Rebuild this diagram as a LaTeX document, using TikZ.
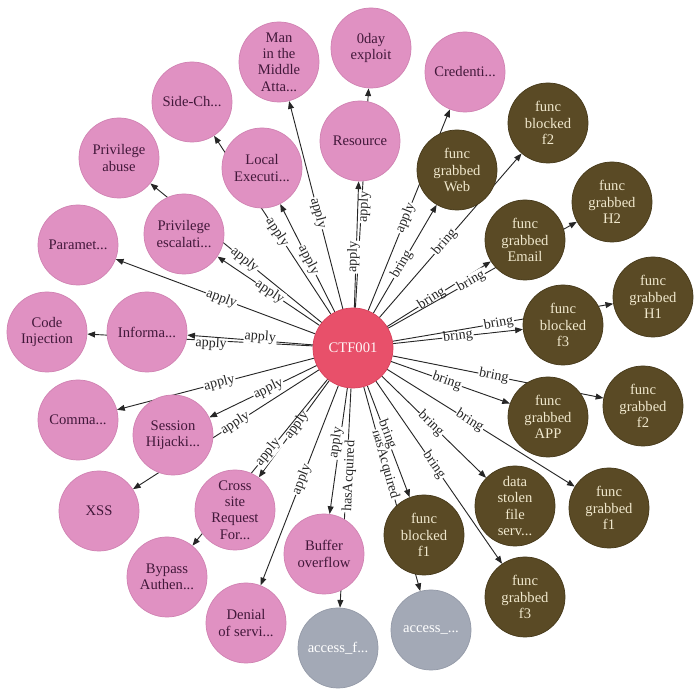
\documentclass[tikz,border=0pt]{standalone}
\usepackage{fontspec}
\setmainfont{Liberation Serif}
\usepackage{xcolor}
\usetikzlibrary{arrows.meta, backgrounds}

\definecolor{pinkfill}{RGB}{224,145,194}
\definecolor{pinkline}{RGB}{208,130,178}
\definecolor{pinktext}{RGB}{66,24,58}
\definecolor{brownfill}{RGB}{90,74,37}
\definecolor{brownline}{RGB}{70,57,26}
\definecolor{browntext}{RGB}{240,232,205}
\definecolor{grayfill}{RGB}{163,169,182}
\definecolor{grayline}{RGB}{148,154,168}
\definecolor{redfill}{RGB}{232,80,106}
\definecolor{redline}{RGB}{215,64,90}

\begin{document}
\begin{tikzpicture}[
    x=0.025cm, y=-0.025cm,
    ent/.style={circle, minimum size=2cm, inner sep=0pt, align=center, line width=0.5pt, font=\fontsize{10.4}{11.6}\selectfont},
    pinknode/.style={ent, fill=pinkfill, draw=pinkline, text=pinktext},
    brownnode/.style={ent, fill=brownfill, draw=brownline, text=browntext},
    graynode/.style={ent, fill=grayfill, draw=grayline, text=white},
    rednode/.style={ent, fill=redfill, draw=redline, text=white!88!pink},
    arr/.style={-{Triangle[length=5.5pt, width=4.2pt]}, line width=0.65pt, black!85},
    lbl/.style={sloped, fill=white, inner sep=0.6pt, font=\fontsize{10}{12}\selectfont, text=black!85}
]
\useasboundingbox (0,0) rectangle (700,694);

% Centre
\node[rednode] (ctf) at (353,348) {CTF001};

% Attack patterns
\node[pinknode] (mitm) at (279,62) {Man\\in the\\Middle\\Atta...};
\node[pinknode] (zeroday) at (371,48) {0day\\exploit};
\node[pinknode] (cred) at (465,72) {Credenti...};
\node[pinknode] (sidech) at (192,102) {Side-Ch...};
\node[pinknode] (resource) at (360,141) {Resource};
\node[pinknode] (localexec) at (262,168) {Local\\Executi...};
\node[pinknode] (privabuse) at (119,158) {Privilege\\abuse};
\node[pinknode] (privesc) at (184,234) {Privilege\\escalati...};
\node[pinknode] (param) at (78,245) {Paramet...};
\node[pinknode] (codeinj) at (47,332) {Code\\Injection};
\node[pinknode] (info) at (147,332) {Informa...};
\node[pinknode] (comma) at (78,420) {Comma...};
\node[pinknode] (session) at (173,435) {Session\\Hijacki...};
\node[pinknode] (xss) at (99,511) {XSS};
\node[pinknode] (csrf) at (235,510) {Cross\\site\\Request\\For...};
\node[pinknode] (bypass) at (167,577) {Bypass\\Authen...};
\node[pinknode] (dos) at (246,623) {Denial\\of servi...};
\node[pinknode] (buffer) at (324,554) {Buffer\\overflow};

% Acquired access
\node[graynode] (accf) at (338,648) {access\_f...};
\node[graynode] (acc) at (431,630) {access\_...};

% Functions
\node[brownnode] (web) at (457,170) {func\\grabbed\\Web};
\node[brownnode] (blkftwo) at (548,123) {func\\blocked\\f2};
\node[brownnode] (email) at (525,240) {func\\grabbed\\Email};
\node[brownnode] (htwo) at (612,202) {func\\grabbed\\H2};
\node[brownnode] (blkfthree) at (563,325) {func\\blocked\\f3};
\node[brownnode] (hone) at (653,297) {func\\grabbed\\H1};
\node[brownnode] (app) at (548,417) {func\\grabbed\\APP};
\node[brownnode] (grbftwo) at (643,406) {func\\grabbed\\f2};
\node[brownnode] (stolen) at (515,506) {data\\stolen\\file\\serv...};
\node[brownnode] (grbfone) at (609,508) {func\\grabbed\\f1};
\node[brownnode] (grbfthree) at (525,597) {func\\grabbed\\f3};
\node[brownnode] (blkfone) at (424,535) {func\\blocked\\f1};

\begin{scope}[on background layer]
\fill[white] (0,0) rectangle (700,694);
% apply
\draw[arr] (ctf) -- node[lbl, pos=.46] {apply} (mitm);
\draw[arr] (ctf) -- node[lbl, pos=.46, yshift=-2pt] {apply} (zeroday);
\draw[arr] (ctf) -- node[lbl, pos=.40, yshift=2pt] {apply} (resource);
\draw[arr] (ctf) -- node[lbl, pos=.46] {apply} (cred);
\draw[arr] (ctf) -- node[lbl, pos=.46] {apply} (sidech);
\draw[arr] (ctf) -- node[lbl, pos=.48] {apply} (localexec);
\draw[arr] (ctf) -- node[lbl, pos=.45] {apply} (privabuse);
\draw[arr] (ctf) -- node[lbl, pos=.49] {apply} (privesc);
\draw[arr] (ctf) -- node[lbl, pos=.47] {apply} (param);
\draw[arr] (ctf) -- node[lbl, pos=.45, yshift=-2.5pt] {apply} (codeinj);
\draw[arr] (ctf) -- node[lbl, pos=.42, yshift=2.5pt] {apply} (info);
\draw[arr] (ctf) -- node[lbl, pos=.48] {apply} (comma);
\draw[arr] (ctf) -- node[lbl, pos=.45] {apply} (session);
\draw[arr] (ctf) -- node[lbl, pos=.45] {apply} (xss);
\draw[arr] (ctf) -- node[lbl, pos=.46] {apply} (csrf);
\draw[arr] (ctf) -- node[lbl, pos=.44] {apply} (bypass);
\draw[arr] (ctf) -- node[lbl, pos=.47] {apply} (dos);
\draw[arr] (ctf) -- node[lbl, pos=.44, yshift=2.5pt] {apply} (buffer);
% hasAcquired
\draw[arr] (ctf) -- node[lbl, pos=.40, yshift=-2pt] {hasAcquired} (accf);
\draw[arr] (ctf) -- node[lbl, pos=.38] {hasAcquired} (acc);
% bring
\draw[arr] (ctf) -- node[lbl, pos=.45] {bring} (web);
\draw[arr] (ctf) -- node[lbl, pos=.46] {bring} (blkftwo);
\draw[arr] (ctf) -- node[lbl, pos=.43] {bring} (email);
\draw[arr] (ctf) -- node[lbl, pos=.44] {bring} (htwo);
\draw[arr] (ctf) -- node[lbl, pos=.50] {bring} (blkfthree);
\draw[arr] (ctf) -- node[lbl, pos=.48] {bring} (hone);
\draw[arr] (ctf) -- node[lbl, pos=.47] {bring} (app);
\draw[arr] (ctf) -- node[lbl, pos=.48] {bring} (grbftwo);
\draw[arr] (ctf) -- node[lbl, pos=.47] {bring} (stolen);
\draw[arr] (ctf) -- node[lbl, pos=.44] {bring} (grbfone);
\draw[arr] (ctf) -- node[lbl, pos=.46] {bring} (grbfthree);
\draw[arr] (ctf) -- node[lbl, pos=.44, yshift=1pt] {bring} (blkfone);
\end{scope}
\end{tikzpicture}
\end{document}
